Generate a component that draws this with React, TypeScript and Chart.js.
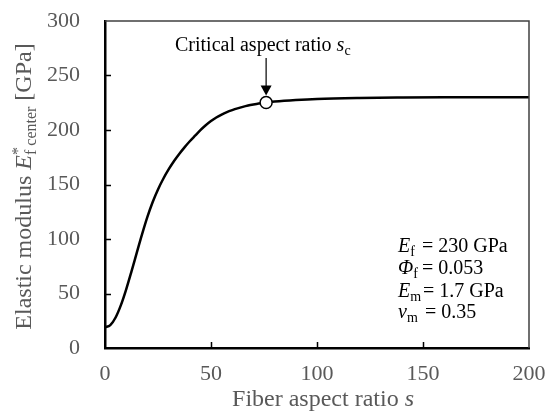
import React, { useEffect, useRef } from "react";
import { Chart, registerables } from "chart.js";

Chart.register(...registerables);

// ---- data ----
const aspectRatios = [0, 2.5, 5, 7.5, 10, 12.5, 15, 17.5, 20, 22.5, 25, 27.5, 30, 32.5, 35, 37.5, 40, 42.5, 45, 47.5, 50, 52.5, 55, 57.5, 60, 62.5, 65, 67.5, 70, 72.5, 75, 77.5, 80, 90, 100, 120, 140, 160, 180, 200];
const modulusValues = [19, 21, 28, 39.3, 53.8, 70.3, 87.5, 104.5, 120.3, 134, 145.5, 155.3, 163.8, 171.3, 178, 184.1, 189.7, 194.8, 199.8, 204.3, 208.2, 211.5, 214.2, 216.4, 218.2, 219.8, 221.2, 222.4, 223.4, 224.3, 225, 225.6, 226.1, 227.5, 228.5, 229.4, 229.8, 230, 230, 230];
const criticalRatio = 76;
const criticalModulus = 225.3;
const xTickValues = [0, 50, 100, 150, 200];
const yTickValues = [0, 50, 100, 150, 200, 250, 300];
const paramSymbols = ["E", "Φ", "E", "ν"];
const paramSubs = ["f", "f", "m", "m"];
const paramValues = ["= 230 GPa", "= 0.053", "= 1.7 GPa", "= 0.35"];
const annotationText = "Critical aspect ratio ";

const SERIF = '"Liberation Serif", "Times New Roman", serif';
const GRAY = "#595959";

type Run = { text: string; size: number; italic?: boolean; shift?: number; noAdvance?: boolean; at?: number };

function drawRuns(ctx: CanvasRenderingContext2D, runs: Run[], x0: number, y0: number, color: string, align: "left" | "center") {
  const font = (r: Run) => `${r.italic ? "italic " : ""}${r.size}px ${SERIF}`;
  let total = 0;
  for (const r of runs) {
    ctx.font = font(r);
    if (!r.noAdvance) total += ctx.measureText(r.text).width;
  }
  let x = align === "center" ? x0 - total / 2 : x0;
  ctx.fillStyle = color;
  ctx.textBaseline = "alphabetic";
  ctx.textAlign = "left";
  for (const r of runs) {
    ctx.font = font(r);
    if (r.at !== undefined) x = r.at;
    ctx.fillText(r.text, x, y0 + (r.shift || 0));
    if (!r.noAdvance) x += ctx.measureText(r.text).width;
  }
}

const decorPlugin = {
  id: "decor",
  afterDraw(chart: any) {
    const ctx: CanvasRenderingContext2D = chart.ctx;
    const { left, right, top, bottom } = chart.chartArea;
    const xs = chart.scales.x;
    const ys = chart.scales.y;
    ctx.save();
    // top/right frame
    ctx.strokeStyle = "#404040";
    ctx.lineWidth = 1.5;
    ctx.beginPath();
    ctx.moveTo(left, top);
    ctx.lineTo(right, top);
    ctx.lineTo(right, bottom);
    ctx.stroke();
    // inner ticks
    ctx.strokeStyle = "#000";
    ctx.lineWidth = 1.5;
    ctx.beginPath();
    for (const v of yTickValues.slice(1, -1)) {
      const py = Math.round(ys.getPixelForValue(v)) + 0.5;
      ctx.moveTo(left, py);
      ctx.lineTo(left + 6, py);
    }
    for (const v of xTickValues.slice(1, -1)) {
      const px = Math.round(xs.getPixelForValue(v)) + 0.5;
      ctx.moveTo(px, bottom);
      ctx.lineTo(px, bottom - 6);
    }
    ctx.stroke();

    // x axis title
    drawRuns(ctx, [
      { text: "Fiber aspect ratio ", size: 24 },
      { text: "s", size: 24, italic: true },
    ], (left + right) / 2 + 6, 406, GRAY, "center");

    // y axis title (rotated)
    ctx.save();
    ctx.translate(30.5, (top + bottom) / 2 + 2);
    ctx.rotate(-Math.PI / 2);
    drawRuns(ctx, [
      { text: "Elastic modulus ", size: 24 },
      { text: "E", size: 24, italic: true },
      { text: "*", size: 16, shift: -8, noAdvance: true },
      { text: "f ", size: 16, shift: 5 },
      { text: "center", size: 16, shift: 5 },
      { text: " [GPa]", size: 24 },
    ], 0, 0, GRAY, "center");
    ctx.restore();

    // annotation
    const cx = xs.getPixelForValue(criticalRatio);
    const cy = ys.getPixelForValue(criticalModulus);
    drawRuns(ctx, [
      { text: annotationText, size: 20 },
      { text: "s", size: 20, italic: true },
      { text: "c", size: 14, shift: 4 },
    ], 175, 51, "#000", "left");
    ctx.strokeStyle = "#000";
    ctx.lineWidth = 1.2;
    ctx.beginPath();
    ctx.moveTo(cx, 58);
    ctx.lineTo(cx, cy - 16);
    ctx.stroke();
    ctx.fillStyle = "#000";
    ctx.beginPath();
    ctx.moveTo(cx - 5.5, cy - 17);
    ctx.lineTo(cx + 5.5, cy - 17);
    ctx.lineTo(cx, cy - 7);
    ctx.closePath();
    ctx.fill();

    // parameter block
    const baselines = [252, 274, 296.5, 318];
    const eqX = [422, 422, 423, 425];
    paramSymbols.forEach((sym, i) => {
      drawRuns(ctx, [
        { text: sym, size: 20, italic: true },
        { text: paramSubs[i], size: 14, shift: 4 },
        { text: paramValues[i], size: 20, at: eqX[i] },
      ], 398, baselines[i], "#000", "left");
    });
    ctx.restore();
  },
};

export default function App() {
  const ref = useRef<HTMLCanvasElement | null>(null);
  useEffect(() => {
    document.body.style.margin = "0";
    const canvas = ref.current!;
    const chart = new Chart(canvas, {
      type: "line",
      data: {
        datasets: [
          {
            label: "critical",
            data: [{ x: criticalRatio, y: criticalModulus }],
            showLine: false,
            pointRadius: 6,
            pointBackgroundColor: "#fff",
            pointBorderColor: "#000",
            pointBorderWidth: 1.5,
            order: 0,
          },
          {
            label: "curve",
            data: aspectRatios.map((s, i) => ({ x: s, y: modulusValues[i] })),
            borderColor: "#000",
            borderWidth: 2.5,
            pointRadius: 0,
            cubicInterpolationMode: "monotone",
            fill: false,
            order: 1,
          },
        ],
      },
      options: {
        responsive: false,
        animation: false,
        devicePixelRatio: 1,
        layout: { padding: { top: 21, right: 27, left: 0, bottom: 0 } },
        plugins: { legend: { display: false }, tooltip: { enabled: false } },
        scales: {
          x: {
            type: "linear",
            min: 0,
            max: 200,
            afterBuildTicks: (s: any) => { s.ticks = xTickValues.map((v) => ({ value: v })); },
            afterFit: (s: any) => { s.height = 66; s.paddingLeft = 0; s.paddingRight = 0; },
            ticks: { color: GRAY, font: { family: SERIF, size: 22 }, padding: 13, maxRotation: 0 },
            grid: { display: false, drawTicks: false },
            border: { display: true, color: "#000", width: 2.5 },
          },
          y: {
            type: "linear",
            min: 0,
            max: 300,
            afterBuildTicks: (s: any) => { s.ticks = yTickValues.map((v) => ({ value: v })); },
            afterFit: (s: any) => { s.width = 105; s.paddingTop = 0; s.paddingBottom = 0; },
            ticks: { color: GRAY, font: { family: SERIF, size: 22 }, padding: 25 },
            grid: { display: false, drawTicks: false },
            border: { display: true, color: "#000", width: 2.5 },
          },
        },
      },
      plugins: [decorPlugin],
    } as any);
    return () => chart.destroy();
  }, []);
  return <canvas ref={ref} width={556} height={414} style={{ display: "block" }} />;
}
